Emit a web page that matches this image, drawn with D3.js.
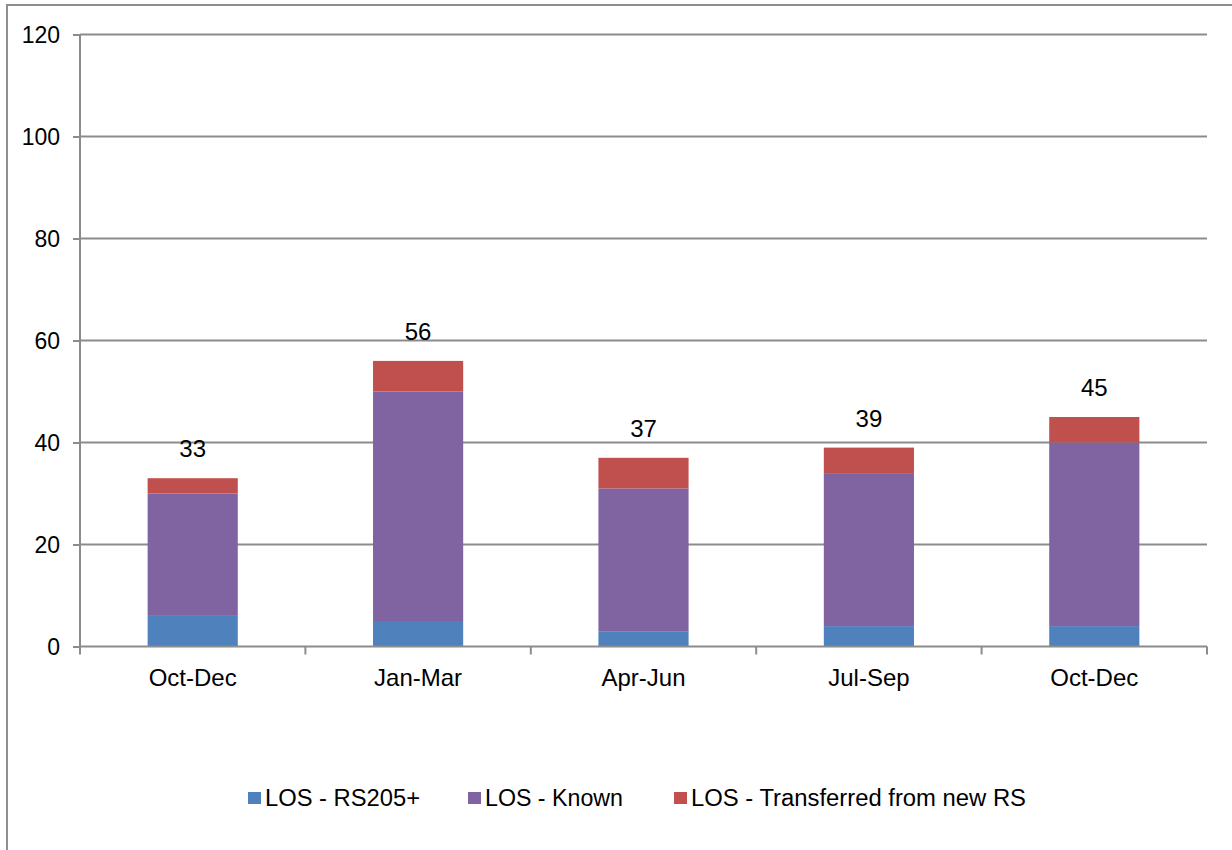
<!DOCTYPE html>
<html>
<head>
<meta charset="utf-8">
<script src="https://cdn.jsdelivr.net/npm/d3@7"></script>
<style>
  html, body { margin: 0; padding: 0; background: #fff; }
  svg { display: block; font-family: "Liberation Sans", Arial, sans-serif; }
</style>
</head>
<body>
<svg id="chart" width="1232" height="850"></svg>
<script>
const categories = ["Oct-Dec", "Jan-Mar", "Apr-Jun", "Jul-Sep", "Oct-Dec"];
const rs205 = [6, 5, 3, 4, 4];
const known = [24, 45, 28, 30, 36];
const transferred = [3, 6, 6, 5, 5];
const seriesNames = ["LOS - RS205+", "LOS - Known", "LOS - Transferred from new RS"];
const seriesColors = ["#4F81BD", "#8064A2", "#C0504D"];
const yTicks = [0, 20, 40, 60, 80, 100, 120];

const svg = d3.select("#chart");
const plot = { left: 80, right: 1207, top: 34.5, bottom: 646.5 };

// outer border (extends past the picture edge)
svg.append("rect").attr("x", 7).attr("y", 5).attr("width", 1300).attr("height", 900)
  .attr("fill", "none").attr("stroke", "#8f8f8f").attr("stroke-width", 2);

const idx = categories.map((d, i) => i);
const x = d3.scaleBand().domain(idx).range([plot.left, plot.right]).padding(0);
const y = d3.scaleLinear().domain([0, 120]).range([plot.bottom, plot.top]);

// gridlines
svg.append("g").selectAll("line").data(yTicks.filter(t => t > 0)).join("line")
  .attr("x1", plot.left).attr("x2", plot.right)
  .attr("y1", d => y(d)).attr("y2", d => y(d))
  .attr("stroke", "#8c8c8c").attr("stroke-width", 2);

// y axis
const yAxis = d3.axisLeft(y).tickValues(yTicks).tickSize(7).tickPadding(13).tickFormat(d3.format("d"));
const gy = svg.append("g").attr("transform", `translate(${plot.left},0)`).call(yAxis);
gy.select(".domain").attr("stroke", "#8c8c8c").attr("stroke-width", 2).attr("d", `M0,${plot.top}V${plot.bottom}`);
gy.selectAll(".tick line").attr("stroke", "#8c8c8c").attr("stroke-width", 2);
gy.selectAll(".tick text").attr("font-size", 23).attr("fill", "#000")
  .attr("font-family", "Liberation Sans, Arial, sans-serif").attr("dy", "0.34em");

// stack
const table = categories.map((c, i) => ({ i, a: rs205[i], b: known[i], c: transferred[i] }));
const stack = d3.stack().keys(["a", "b", "c"]);
const layers = stack(table);

const barW = x.bandwidth() * 0.4;
svg.append("g").selectAll("g").data(layers).join("g")
  .attr("fill", (d, k) => seriesColors[k])
  .selectAll("rect").data(d => d).join("rect")
  .attr("x", d => x(d.data.i) + (x.bandwidth() - barW) / 2)
  .attr("width", barW)
  .attr("y", d => y(d[1]))
  .attr("height", d => y(d[0]) - y(d[1]));

// x axis
const gx = svg.append("g").attr("transform", `translate(0,${plot.bottom})`);
gx.append("line").attr("x1", plot.left).attr("x2", plot.right).attr("stroke", "#8c8c8c").attr("stroke-width", 2);
const bounds = d3.range(categories.length + 1).map(k => plot.left + k * x.step());
gx.selectAll("line.tk").data(bounds).join("line").attr("class", "tk")
  .attr("x1", d => d).attr("x2", d => d).attr("y1", 0).attr("y2", 8)
  .attr("stroke", "#8c8c8c").attr("stroke-width", 2);
gx.selectAll("text").data(idx).join("text")
  .attr("x", d => x(d) + x.bandwidth() / 2).attr("y", 39)
  .attr("text-anchor", "middle").attr("font-size", 24).attr("fill", "#000")
  .text(d => categories[d]);

// totals
svg.append("g").selectAll("text").data(table).join("text")
  .attr("x", d => x(d.i) + x.bandwidth() / 2)
  .attr("y", d => y(d.a + d.b + d.c) - 21)
  .attr("text-anchor", "middle").attr("font-size", 24).attr("fill", "#000")
  .text(d => d.a + d.b + d.c);

// legend
const legX = [248, 468, 674];
const legW = [155, 138, 335];
const lg = svg.append("g").selectAll("g").data(seriesNames).join("g")
  .attr("transform", (d, k) => `translate(${legX[k]},792)`);
lg.append("rect").attr("width", 13).attr("height", 12).attr("fill", (d, k) => seriesColors[k]);
lg.append("text").attr("x", 17).attr("y", 14).attr("font-size", 23).attr("fill", "#000")
  .attr("textLength", (d, k) => legW[k]).attr("lengthAdjust", "spacingAndGlyphs")
  .text(d => d);
</script>
</body>
</html>
